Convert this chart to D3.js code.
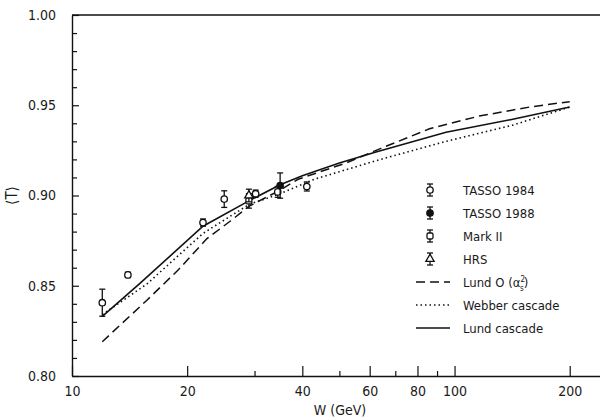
<!DOCTYPE html>
<html>
<head>
<meta charset="utf-8">
<script src="https://cdn.jsdelivr.net/npm/d3@7"></script>
<style>
  body { margin: 0; background: #fff; }
  svg text { font-family: "DejaVu Sans Condensed", "DejaVu Sans", sans-serif; fill: #1a1a1a; }
</style>
</head>
<body>
<svg id="chart" width="600" height="420"></svg>
<script>
// x ticks (GeV) and y ticks
const xMajorTicks = [10, 20, 40, 60, 80, 100, 200];
const xMinorTicks = [30, 50, 70, 90];
const yMajorTicks = [0.80, 0.85, 0.90, 0.95, 1.00];

// data points
const tasso84W = [12, 14, 22, 25, 30.2, 34.5, 41.1];
const tasso84T = [0.8406, 0.856, 0.885, 0.898, 0.901, 0.902, 0.905];
const tasso84E = [0.0075, 0.0015, 0.002, 0.0046, 0.002, 0.003, 0.0025];

const tasso88W = [35];
const tasso88T = [0.9055];
const tasso88E = [0.007];

const markIIW = [29];
const markIIT = [0.897];
const markIIE = [0.004];

const hrsW = [29];
const hrsT = [0.900];
const hrsE = [0.0035];

// model curves
const lundW = [12, 15.7, 19, 22.5, 26, 29, 35, 39, 52, 64, 86, 116, 157, 200];
const lundT = [0.819, 0.842, 0.859, 0.876, 0.886, 0.894, 0.903, 0.909, 0.918, 0.926, 0.937, 0.944, 0.949, 0.952];

const webberW = [12, 15.7, 22, 29, 35, 43, 64, 95, 142, 200];
const webberT = [0.834, 0.851, 0.879, 0.895, 0.901, 0.909, 0.920, 0.930, 0.939, 0.949];

const cascadeW = [12, 15, 22, 29, 35, 40, 50, 62, 95, 140, 200];
const cascadeT = [0.833, 0.851, 0.883, 0.897, 0.906, 0.911, 0.918, 0.924, 0.935, 0.942, 0.949];

const legendNames = ["TASSO 1984", "TASSO 1988", "Mark II", "HRS", "Lund O", "Webber cascade", "Lund cascade"];

const svg = d3.select("#chart");
const x = d3.scaleLog().domain([10, 240]).range([72, 600]);
const y = d3.scaleLinear().domain([0.80, 1.00]).range([376, 15]);
const ink = "#111";

// axes
const xAxis = svg.append("g").attr("transform", "translate(0,376)")
  .call(d3.axisBottom(x).tickValues(xMajorTicks).tickFormat(d3.format("d"))
    .tickSizeInner(-10).tickSizeOuter(0).tickPadding(10));
const xMinor = svg.append("g").attr("transform", "translate(0,376)")
  .call(d3.axisBottom(x).tickValues(xMinorTicks).tickFormat("").tickSizeInner(-5).tickSizeOuter(0));
xMinor.select(".domain").remove();

const yAxis = svg.append("g").attr("transform", "translate(72,0)")
  .call(d3.axisLeft(y).tickValues(yMajorTicks).tickFormat(d3.format(".2f"))
    .tickSizeInner(-7).tickSizeOuter(0).tickPadding(16));
const yMinor = svg.append("g").attr("transform", "translate(72,0)")
  .call(d3.axisLeft(y).tickValues(d3.range(81, 100).filter(v => v % 5 !== 0).map(v => v / 100))
    .tickFormat("").tickSizeInner(-5).tickSizeOuter(0));
yMinor.select(".domain").remove();

svg.selectAll(".domain").attr("stroke", ink).attr("stroke-width", 1.4);
svg.selectAll(".tick line").attr("stroke", ink).attr("stroke-width", 1.2);
svg.selectAll(".tick text").attr("font-size", 14).attr("fill", "#1a1a1a")
  .attr("font-family", "DejaVu Sans Condensed, DejaVu Sans, sans-serif");

// top frame line
svg.append("line").attr("x1", 72).attr("x2", 600).attr("y1", y(1.0)).attr("y2", y(1.0))
  .attr("stroke", ink).attr("stroke-width", 1.4);

// axis titles
svg.append("text").attr("x", 340).attr("y", 415).attr("text-anchor", "middle")
  .attr("font-size", 14).text("W (GeV)");
svg.append("text").attr("transform", "translate(17," + y(0.90) + ") rotate(-90)")
  .attr("text-anchor", "middle").attr("font-size", 15).text("\u27E8T\u27E9");

// model curves
const line = d3.line().x(d => x(d[0])).y(d => y(d[1])).curve(d3.curveLinear);
const curves = [
  { w: lundW, t: lundT, dash: "9,5", width: 1.5 },
  { w: webberW, t: webberT, dash: "1.5,3", width: 1.6 },
  { w: cascadeW, t: cascadeT, dash: null, width: 1.6 }
];
curves.forEach(c => {
  svg.append("path").datum(c.w.map((w, i) => [w, c.t[i]]))
    .attr("d", line).attr("fill", "none").attr("stroke", ink)
    .attr("stroke-width", c.width).attr("stroke-dasharray", c.dash);
});

// markers
function drawMarker(g, type, cx, cy) {
  if (type === "circle" || type === "filled") {
    g.append("circle").attr("cx", cx).attr("cy", cy).attr("r", 3.2)
      .attr("fill", type === "filled" ? ink : "#fff").attr("stroke", ink).attr("stroke-width", 1.3);
  } else if (type === "square") {
    g.append("rect").attr("x", cx - 3).attr("y", cy - 3).attr("width", 6).attr("height", 6)
      .attr("rx", 1.5).attr("fill", "#fff").attr("stroke", ink).attr("stroke-width", 1.3);
  } else if (type === "triangle") {
    g.append("path").attr("d", d3.symbol().type(d3.symbolTriangle).size(30)())
      .attr("transform", "translate(" + cx + "," + cy + ")")
      .attr("fill", "#fff").attr("stroke", ink).attr("stroke-width", 1.3);
  }
}
function drawErr(g, cx, y1, y2) {
  g.append("line").attr("x1", cx).attr("x2", cx).attr("y1", y1).attr("y2", y2)
    .attr("stroke", ink).attr("stroke-width", 1.3);
  [y1, y2].forEach(v => g.append("line").attr("x1", cx - 3).attr("x2", cx + 3)
    .attr("y1", v).attr("y2", v).attr("stroke", ink).attr("stroke-width", 1.3));
}

const sets = [
  { w: tasso84W, t: tasso84T, e: tasso84E, type: "circle" },
  { w: markIIW, t: markIIT, e: markIIE, type: "square" },
  { w: hrsW, t: hrsT, e: hrsE, type: "triangle" },
  { w: tasso88W, t: tasso88T, e: tasso88E, type: "filled" }
];
const pts = svg.append("g");
sets.forEach(s => {
  s.w.forEach((w, i) => {
    drawErr(pts, x(w), y(s.t[i] + s.e[i]), y(s.t[i] - s.e[i]));
    drawMarker(pts, s.type, x(w), y(s.t[i]));
  });
});

// legend
const leg = svg.append("g");
const legTypes = ["circle", "filled", "square", "triangle"];
legendNames.forEach((name, i) => {
  const ly = 190 + i * 23;
  if (i < 4) {
    drawErr(leg, 430, ly - 6, ly + 6);
    drawMarker(leg, legTypes[i], 430, ly);
  } else {
    const c = curves[i - 4];
    leg.append("line").attr("x1", 416).attr("x2", 450).attr("y1", ly).attr("y2", ly)
      .attr("stroke", ink).attr("stroke-width", c.width).attr("stroke-dasharray", c.dash);
  }
  const t = leg.append("text").attr("x", 463).attr("y", ly + 4.5).attr("font-size", 13);
  if (i === 4) {
    t.text("Lund O (\u03B1");
    t.append("tspan").attr("font-size", 8).attr("dy", -5).text("2");
    t.append("tspan").attr("font-size", 8).attr("dx", -5).attr("dy", 9).text("s");
    t.append("tspan").attr("font-size", 13).attr("dy", -4).text(")");
  } else {
    t.text(name);
  }
});
</script>
</body>
</html>
